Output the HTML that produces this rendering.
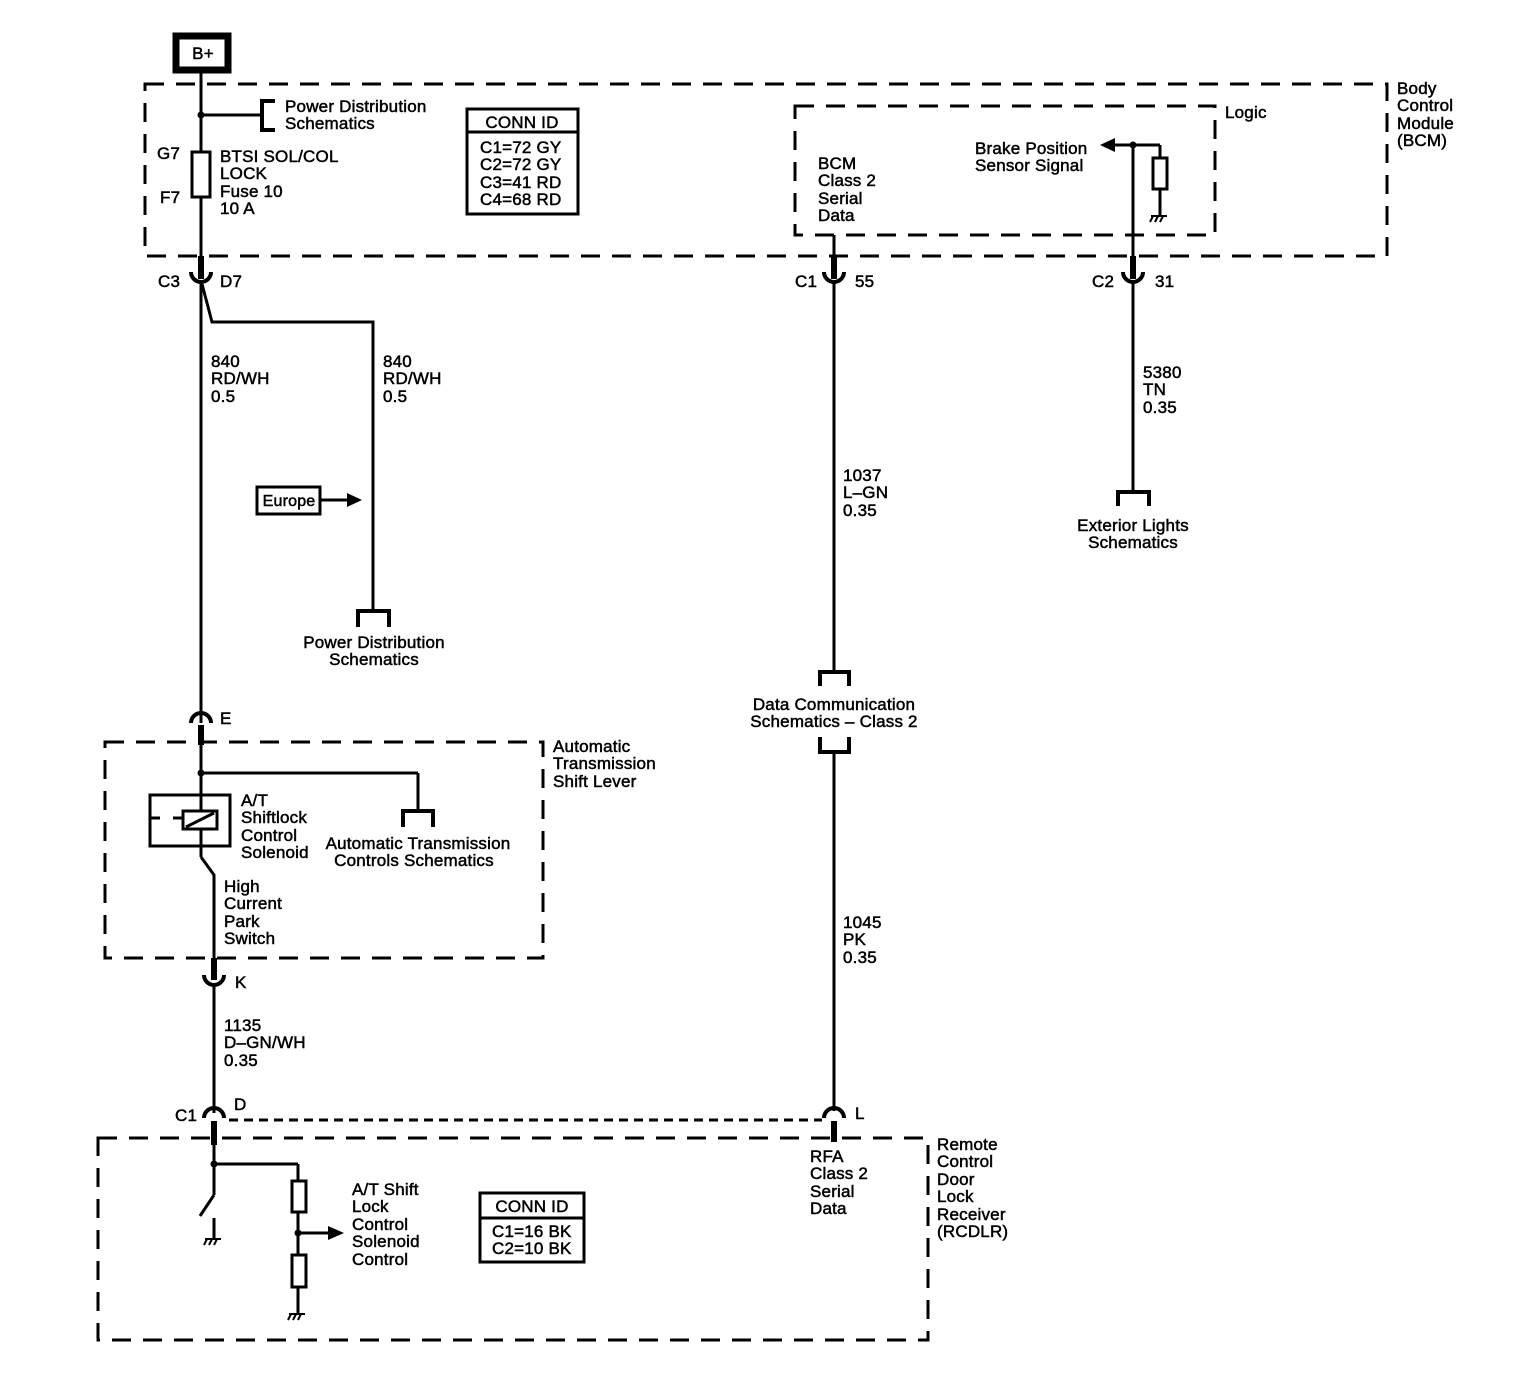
<!DOCTYPE html>
<html><head><meta charset="utf-8"><style>
html,body{margin:0;padding:0;background:#fff;}
svg{display:block;}
text{font-family:"Liberation Sans",sans-serif;font-size:17px;fill:#000;stroke:#000;stroke-width:0.5;letter-spacing:0.2px;}
</style></head><body>
<svg width="1532" height="1392" viewBox="0 0 1532 1392" xmlns="http://www.w3.org/2000/svg">
<g fill="none" stroke="#000">
<rect x="145" y="84" width="1242" height="172" stroke-width="3" stroke-dasharray="19,12"/>
<rect x="795" y="106" width="420" height="129" stroke-width="3" stroke-dasharray="19,12"/>
<rect x="105" y="742" width="438" height="216" stroke-width="3" stroke-dasharray="19,12"/>
<rect x="98" y="1138" width="830" height="202" stroke-width="3" stroke-dasharray="19,12"/>
<rect x="176" y="36" width="52" height="34" stroke-width="7"/>
<line x1="201" y1="73" x2="201" y2="256" stroke-width="3"/>
<line x1="201" y1="115" x2="262" y2="115" stroke-width="3"/>
<polyline points="275,101 262,101 262,130 275,130" stroke-width="4"/>
<rect x="192" y="152" width="18" height="45" fill="#fff" stroke-width="3"/>
<rect x="467" y="109" width="111" height="105" stroke-width="3"/>
<line x1="467" y1="132" x2="578" y2="132" stroke-width="3"/>
<line x1="201" y1="256" x2="201" y2="279" stroke-width="6"/>
<path d="M191,272 A10,10 0 0 0 211,272" stroke-width="4"/>
<line x1="201" y1="282" x2="201" y2="723" stroke-width="3"/>
<polyline points="202,284 212,322 373,322 373,611" stroke-width="3"/>
<polyline points="358,627 358,611 389,611 389,627" stroke-width="4"/>
<rect x="257" y="487" width="63" height="27" stroke-width="3"/>
<line x1="320" y1="500" x2="350" y2="500" stroke-width="3"/>
<path d="M191,723 A10,10 0 0 1 211,723" stroke-width="4"/>
<line x1="201" y1="725" x2="201" y2="745" stroke-width="6"/>
<line x1="201" y1="745" x2="201" y2="857" stroke-width="3"/>
<line x1="201" y1="773" x2="418" y2="773" stroke-width="3"/>
<line x1="418" y1="773" x2="418" y2="811" stroke-width="3"/>
<polyline points="403,827 403,811 433,811 433,827" stroke-width="4"/>
<rect x="150" y="795" width="80" height="51" stroke-width="3"/>
<rect x="183" y="811" width="34" height="18" fill="#fff" stroke-width="3"/>
<line x1="186" y1="827" x2="214" y2="813" stroke-width="3"/>
<line x1="150" y1="818" x2="160" y2="818" stroke-width="3"/>
<line x1="173" y1="818" x2="183" y2="818" stroke-width="3"/>
<polyline points="201,857 214,875 214,958" stroke-width="3"/>
<line x1="214" y1="958" x2="214" y2="980" stroke-width="6"/>
<path d="M204,975 A10,10 0 0 0 224,975" stroke-width="4"/>
<line x1="214" y1="985" x2="214" y2="1113" stroke-width="3"/>
<path d="M204,1118 A10,10 0 0 1 224,1118" stroke-width="4"/>
<line x1="214" y1="1121" x2="214" y2="1145" stroke-width="6"/>
<line x1="229" y1="1120" x2="822" y2="1120" stroke-width="3" stroke-dasharray="9,6"/>
<line x1="214" y1="1145" x2="214" y2="1195" stroke-width="3"/>
<line x1="214" y1="1164" x2="298" y2="1164" stroke-width="3"/>
<line x1="298" y1="1164" x2="298" y2="1313" stroke-width="3"/>
<rect x="292" y="1181" width="14" height="31" fill="#fff" stroke-width="3"/>
<rect x="292" y="1255" width="14" height="32" fill="#fff" stroke-width="3"/>
<line x1="298" y1="1233" x2="330" y2="1233" stroke-width="3"/>
<line x1="214" y1="1195" x2="200" y2="1216" stroke-width="3"/>
<line x1="214" y1="1218" x2="214" y2="1238" stroke-width="3"/>
<rect x="480" y="1193" width="104" height="69" stroke-width="3"/>
<line x1="480" y1="1218" x2="584" y2="1218" stroke-width="3"/>
<line x1="834" y1="235" x2="834" y2="268" stroke-width="3"/>
<line x1="834" y1="256" x2="834" y2="279" stroke-width="6"/>
<path d="M824,272 A10,10 0 0 0 844,272" stroke-width="4"/>
<line x1="834" y1="282" x2="834" y2="672" stroke-width="3"/>
<polyline points="820,686 820,672 849,672 849,686" stroke-width="4"/>
<polyline points="820,737 820,752 849,752 849,737" stroke-width="4"/>
<line x1="834" y1="752" x2="834" y2="1111" stroke-width="3"/>
<path d="M824,1118 A10,10 0 0 1 844,1118" stroke-width="4"/>
<line x1="834" y1="1121" x2="834" y2="1142" stroke-width="6"/>
<line x1="1133" y1="145" x2="1133" y2="268" stroke-width="3"/>
<line x1="1133" y1="256" x2="1133" y2="279" stroke-width="6"/>
<path d="M1123,272 A10,10 0 0 0 1143,272" stroke-width="4"/>
<line x1="1133" y1="282" x2="1133" y2="492" stroke-width="3"/>
<polyline points="1118,506 1118,492 1149,492 1149,506" stroke-width="4"/>
<line x1="1112" y1="145" x2="1160" y2="145" stroke-width="3"/>
<line x1="1160" y1="145" x2="1160" y2="215" stroke-width="3"/>
<rect x="1153" y="158" width="14" height="31" fill="#fff" stroke-width="3"/>
<g stroke-width="2">
<line x1="1151" y1="216" x2="1167" y2="216"/><line x1="1153" y1="216" x2="1150" y2="222"/><line x1="1158" y1="216" x2="1155" y2="222"/><line x1="1163" y1="216" x2="1160" y2="222"/>
<line x1="205" y1="1239" x2="221" y2="1239"/><line x1="207" y1="1239" x2="204" y2="1245"/><line x1="212" y1="1239" x2="209" y2="1245"/><line x1="217" y1="1239" x2="214" y2="1245"/>
<line x1="289" y1="1314" x2="305" y2="1314"/><line x1="291" y1="1314" x2="288" y2="1320"/><line x1="296" y1="1314" x2="293" y2="1320"/><line x1="301" y1="1314" x2="298" y2="1320"/>
</g>
</g>
<g fill="#000">
<circle cx="201" cy="115" r="3.5"/>
<circle cx="201" cy="773" r="3.5"/>
<circle cx="214" cy="1164" r="3.5"/>
<circle cx="298" cy="1233" r="3.5"/>
<circle cx="1133" cy="145" r="3.5"/>
<polygon points="362,500 347,493 347,507"/>
<polygon points="344,1233 328,1226 328,1240"/>
<polygon points="1100,145 1115,138 1115,152"/>
</g>
<text x="203" y="59" text-anchor="middle">B+</text>
<text x="285" y="112">Power Distribution</text>
<text x="285" y="129">Schematics</text>
<text x="157" y="159">G7</text>
<text x="160" y="203">F7</text>
<text x="220" y="162">BTSI SOL/COL</text>
<text x="220" y="179">LOCK</text>
<text x="220" y="197">Fuse 10</text>
<text x="220" y="214">10 A</text>
<text x="522" y="128" text-anchor="middle">CONN ID</text>
<text x="480" y="153">C1=72 GY</text>
<text x="480" y="170">C2=72 GY</text>
<text x="480" y="188">C3=41 RD</text>
<text x="480" y="205">C4=68 RD</text>
<text x="1397" y="94">Body</text>
<text x="1397" y="111">Control</text>
<text x="1397" y="129">Module</text>
<text x="1397" y="146">(BCM)</text>
<text x="1225" y="118">Logic</text>
<text x="818" y="169">BCM</text>
<text x="818" y="186">Class 2</text>
<text x="818" y="204">Serial</text>
<text x="818" y="221">Data</text>
<text x="975" y="154">Brake Position</text>
<text x="975" y="171">Sensor Signal</text>
<text x="158" y="287">C3</text>
<text x="220" y="287">D7</text>
<text x="795" y="287">C1</text>
<text x="855" y="287">55</text>
<text x="1092" y="287">C2</text>
<text x="1155" y="287">31</text>
<text x="211" y="367">840</text>
<text x="211" y="384">RD/WH</text>
<text x="211" y="402">0.5</text>
<text x="383" y="367">840</text>
<text x="383" y="384">RD/WH</text>
<text x="383" y="402">0.5</text>
<text x="1143" y="378">5380</text>
<text x="1143" y="395">TN</text>
<text x="1143" y="413">0.35</text>
<text x="1133" y="531" text-anchor="middle">Exterior Lights</text>
<text x="1133" y="548" text-anchor="middle">Schematics</text>
<text x="843" y="481">1037</text>
<text x="843" y="498">L–GN</text>
<text x="843" y="516">0.35</text>
<text x="289" y="506" text-anchor="middle" style="font-size:16px">Europe</text>
<text x="374" y="648" text-anchor="middle">Power Distribution</text>
<text x="374" y="665" text-anchor="middle">Schematics</text>
<text x="834" y="710" text-anchor="middle">Data Communication</text>
<text x="834" y="727" text-anchor="middle">Schematics – Class 2</text>
<text x="220" y="724">E</text>
<text x="553" y="752">Automatic</text>
<text x="553" y="769">Transmission</text>
<text x="553" y="787">Shift Lever</text>
<text x="241" y="806">A/T</text>
<text x="241" y="823">Shiftlock</text>
<text x="241" y="841">Control</text>
<text x="241" y="858">Solenoid</text>
<text x="418" y="849" text-anchor="middle">Automatic Transmission</text>
<text x="414" y="866" text-anchor="middle">Controls Schematics</text>
<text x="224" y="892">High</text>
<text x="224" y="909">Current</text>
<text x="224" y="927">Park</text>
<text x="224" y="944">Switch</text>
<text x="843" y="928">1045</text>
<text x="843" y="945">PK</text>
<text x="843" y="963">0.35</text>
<text x="235" y="988">K</text>
<text x="224" y="1031">1135</text>
<text x="224" y="1048">D–GN/WH</text>
<text x="224" y="1066">0.35</text>
<text x="175" y="1121">C1</text>
<text x="234" y="1110">D</text>
<text x="855" y="1119">L</text>
<text x="937" y="1150">Remote</text>
<text x="937" y="1167">Control</text>
<text x="937" y="1185">Door</text>
<text x="937" y="1202">Lock</text>
<text x="937" y="1220">Receiver</text>
<text x="937" y="1237">(RCDLR)</text>
<text x="810" y="1162">RFA</text>
<text x="810" y="1179">Class 2</text>
<text x="810" y="1197">Serial</text>
<text x="810" y="1214">Data</text>
<text x="352" y="1195">A/T Shift</text>
<text x="352" y="1212">Lock</text>
<text x="352" y="1230">Control</text>
<text x="352" y="1247">Solenoid</text>
<text x="352" y="1265">Control</text>
<text x="532" y="1212" text-anchor="middle">CONN ID</text>
<text x="492" y="1237">C1=16 BK</text>
<text x="492" y="1254">C2=10 BK</text>
</svg>
</body></html>
